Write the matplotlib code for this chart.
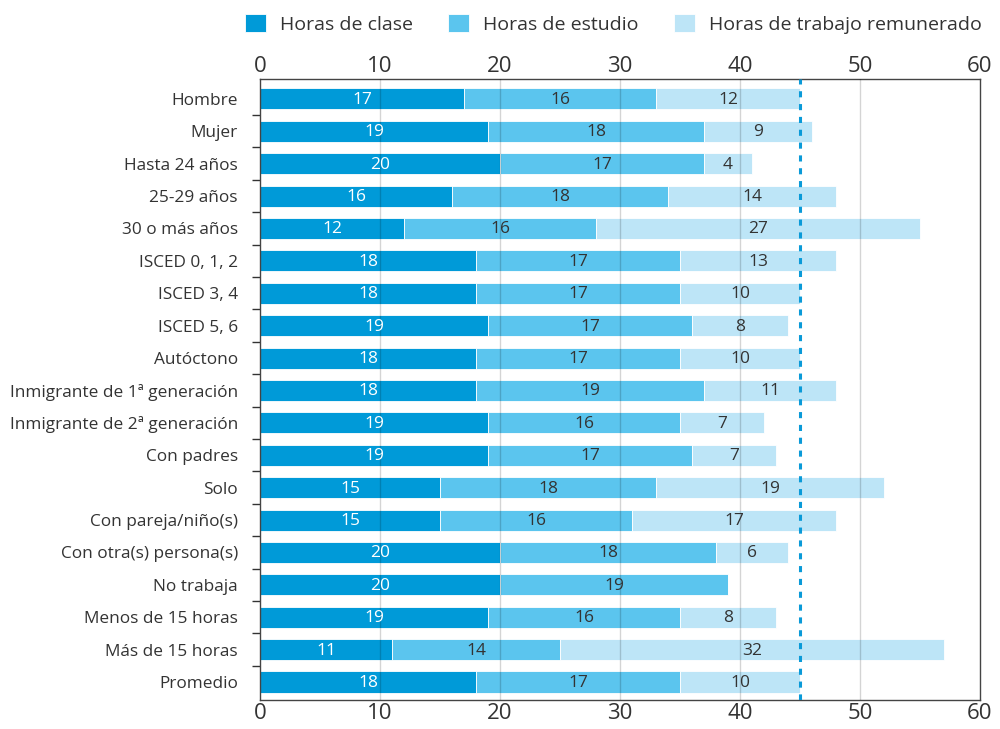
import numpy as np
import matplotlib.pyplot as plt
from matplotlib.ticker import FixedLocator

plt.rcParams['font.family'] = ['Open Sans', 'DejaVu Sans']

categorias = ['Hombre', 'Mujer', 'Hasta 24 años', '25-29 años', '30 o más años',
              'ISCED 0, 1, 2', 'ISCED 3, 4', 'ISCED 5, 6', 'Autóctono',
              'Inmigrante de 1ª generación', 'Inmigrante de 2ª generación',
              'Con padres', 'Solo', 'Con pareja/niño(s)', 'Con otra(s) persona(s)',
              'No trabaja', 'Menos de 15 horas', 'Más de 15 horas', 'Promedio']
clase = [17, 19, 20, 16, 12, 18, 18, 19, 18, 18, 19, 19, 15, 15, 20, 20, 19, 11, 18]
estudio = [16, 18, 17, 18, 16, 17, 17, 17, 17, 19, 16, 17, 18, 16, 18, 19, 16, 14, 17]
trabajo = [12, 9, 4, 14, 27, 13, 10, 8, 10, 11, 7, 7, 19, 17, 6, 0, 8, 32, 10]
series = ['Horas de clase', 'Horas de estudio', 'Horas de trabajo remunerado']
referencia = 45

colores = ['#009ad8', '#5bc5ee', '#bde5f7']
txt_col = ['white', '#333333', '#333333']

fig = plt.figure(figsize=(10, 7.29), dpi=100)
ax = fig.add_axes([0.26, 0.04, 0.72, 0.851])

y = np.arange(len(categorias))
izq = np.zeros(len(categorias))
for datos, nombre, c, tc in zip([clase, estudio, trabajo], series, colores, txt_col):
    datos = np.array(datos)
    ax.barh(y, datos, left=izq, height=0.65, color=c, edgecolor='white',
            linewidth=0.6, label=nombre, zorder=2)
    for yi, v, l in zip(y, datos, izq):
        if v > 0:
            ax.text(l + v / 2, yi + 0.03, str(v), ha='center', va='center',
                    fontsize=12.5, color=tc, zorder=4)
    izq = izq + datos

for xv in range(10, 60, 10):
    ax.axvline(xv, color='black', alpha=0.17, linewidth=1, zorder=3)
ax.axvline(referencia, color='#0a9ad8', linestyle=(0, (2, 2.2)), linewidth=2.2, zorder=5)

ax.set_xlim(0, 60)
ax.set_ylim(len(categorias) - 0.45, -0.6)
ax.set_xticks(range(0, 61, 10))
ax.tick_params(axis='x', length=0, labelsize=16, colors='#333333', pad=2,
               top=True, labeltop=True)
ax.set_yticks(y)
ax.set_yticklabels(categorias)
ax.yaxis.set_minor_locator(FixedLocator(y[:-1] + 0.5))
ax.tick_params(axis='y', which='major', length=0, labelsize=12.4, colors='#333333', pad=16)
ax.tick_params(axis='y', which='minor', length=6, width=1, color='#333333')
for s in ax.spines.values():
    s.set_color('#444444')
    s.set_linewidth(1)

fig.legend(loc='upper right', bbox_to_anchor=(0.995, 1.0), ncol=3, frameon=False,
           fontsize=14, handlelength=1.1, handleheight=1.1, columnspacing=1.8,
           handletextpad=0.7, labelcolor='#333333', borderaxespad=0.3)

fig.savefig('out.png', dpi=100)
